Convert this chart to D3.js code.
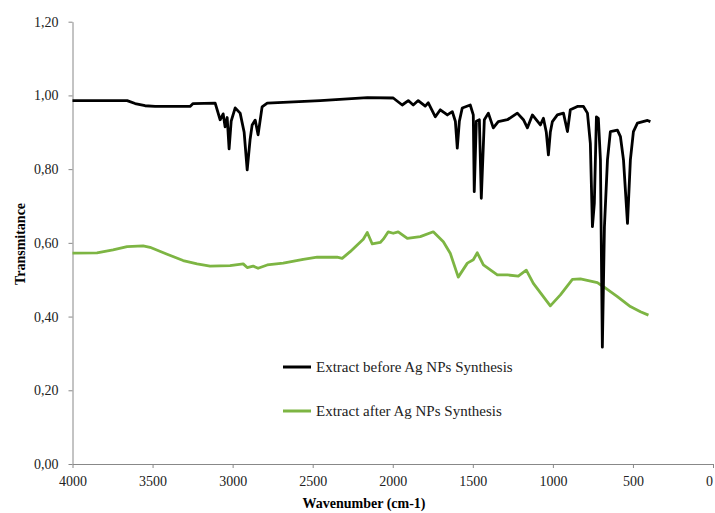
<!DOCTYPE html>
<html>
<head>
<meta charset="utf-8">
<script src="https://cdn.jsdelivr.net/npm/d3@7"></script>
<style>
    body { margin: 0; background: #fff; }
    svg { font-family: "Liberation Serif", "Times New Roman", serif; }
</style>
</head>
<body>
<div id="chart"></div>
<script>
// wavenumber (cm-1) and transmitance
var beforeWave = [4000, 3659, 3609, 3547, 3484, 3266, 3247, 3109, 3078, 3059, 3047, 3034, 3022, 3009, 2984, 2953,
    2928, 2909, 2891, 2878, 2859, 2841, 2816, 2784, 2453, 2159, 1997, 1941, 1903, 1872, 1841, 1797, 1778, 1734,
    1703, 1659, 1628, 1609, 1597, 1584, 1566, 1516, 1497, 1491, 1478, 1459, 1447, 1428, 1403, 1372, 1341, 1284,
    1222, 1184, 1159, 1128, 1078, 1059, 1041, 1028, 1016, 1003, 972, 934, 909, 891, 847, 809, 784, 766, 753, 741,
    728, 716, 703, 691, 678, 659, 641, 597, 578, 559, 534, 516, 497, 472, 409, 391];
var beforeT = [0.986, 0.986, 0.978, 0.972, 0.970, 0.970, 0.978, 0.979, 0.934, 0.950, 0.915, 0.940, 0.855, 0.930, 0.966, 0.952,
    0.900, 0.798, 0.880, 0.920, 0.933, 0.893, 0.969, 0.979, 0.986, 0.994, 0.993, 0.974, 0.986, 0.974, 0.986, 0.971, 0.980, 0.942,
    0.961, 0.947, 0.956, 0.930, 0.857, 0.930, 0.966, 0.974, 0.947, 0.739, 0.930, 0.934, 0.721, 0.934, 0.952, 0.912, 0.929, 0.934,
    0.952, 0.934, 0.912, 0.947, 0.920, 0.938, 0.900, 0.839, 0.900, 0.929, 0.947, 0.952, 0.902, 0.961, 0.970, 0.970, 0.952, 0.870, 0.644, 0.708,
    0.942, 0.938, 0.825, 0.317, 0.644, 0.825, 0.902, 0.906, 0.888, 0.825, 0.653, 0.825, 0.902, 0.925, 0.932, 0.929];

var afterWave = [4000, 3847, 3747, 3659, 3559, 3516, 3409, 3309, 3222, 3141, 3016, 2934, 2909, 2872, 2841, 2784,
    2684, 2559, 2472, 2347, 2316, 2266, 2184, 2159, 2128, 2078, 2059, 2028, 1997, 1966, 1909, 1828, 1747, 1684,
    1641, 1591, 1534, 1497, 1472, 1434, 1347, 1284, 1216, 1166, 1122, 1016, 953, 878, 828, 722, 684, 597, 516, 453, 403];
var afterT = [0.572, 0.573, 0.581, 0.590, 0.592, 0.588, 0.569, 0.552, 0.543, 0.537, 0.538, 0.543, 0.533, 0.537, 0.531, 0.540,
    0.545, 0.555, 0.561, 0.561, 0.558, 0.576, 0.610, 0.628, 0.597, 0.601, 0.610, 0.630, 0.626, 0.630, 0.612, 0.617, 0.630, 0.603,
    0.572, 0.507, 0.545, 0.554, 0.573, 0.540, 0.513, 0.513, 0.510, 0.526, 0.490, 0.429, 0.459, 0.501, 0.502, 0.492, 0.481, 0.454, 0.427, 0.413, 0.404];

var seriesNames = ["Extract before Ag NPs Synthesis", "Extract after Ag NPs Synthesis"];
var seriesColors = ["#000000", "#7db543"];
var xTicks = [4000, 3500, 3000, 2500, 2000, 1500, 1000, 500, 0];
var yTicks = [0, 0.2, 0.4, 0.6, 0.8, 1.0, 1.2];

const svgDimentions = { width: 715, height: 513 };
const margins = { top: 21.7, bottom: 49, left: 72.5, right: 2 };

var svg = d3.select("#chart").append("svg")
    .attr("width", svgDimentions.width)
    .attr("height", svgDimentions.height);

var scaleX = d3.scaleLinear()
    .domain([4000, 0])
    .range([margins.left, svgDimentions.width - margins.right]);

var scaleY = d3.scaleLinear()
    .domain([0, 1.2])
    .range([svgDimentions.height - margins.bottom, margins.top]);

var fmt = d => d3.format(".2f")(d).replace(".", ",");

var axisX = d3.axisBottom(scaleX).tickValues(xTicks).tickFormat(d3.format("d"))
    .tickSize(4).tickPadding(8).tickSizeOuter(0);
var axisY = d3.axisLeft(scaleY).tickValues(yTicks).tickFormat(fmt)
    .tickSize(4).tickPadding(10).tickSizeOuter(0);

svg.append("g")
    .attr("class", "x axis")
    .attr("transform", "translate(0," + scaleY(0) + ")")
    .call(axisX);
svg.append("g")
    .attr("class", "y axis")
    .attr("transform", "translate(" + margins.left + ",0)")
    .call(axisY);

svg.selectAll(".axis path, .axis line").attr("stroke", "#888");
svg.selectAll(".axis text").attr("fill", "#222").style("font-size", "14px")
    .style("font-family", "'Liberation Serif', serif");

// last label sits on the window edge, nudge it in
svg.selectAll(".x.axis .tick text").filter(d => d === 0).attr("dx", -4);

// spectra
var line = d3.line()
    .x(d => scaleX(d[0]))
    .y(d => scaleY(d[1]));

var series = [
    d3.zip(afterWave, afterT),
    d3.zip(beforeWave, beforeT)
];
var colorsInOrder = [seriesColors[1], seriesColors[0]];

svg.selectAll(".spectrum")
    .data(series)
    .enter()
    .append("path")
    .attr("class", "spectrum")
    .attr("d", line)
    .attr("fill", "none")
    .attr("stroke", (d, i) => colorsInOrder[i])
    .attr("stroke-width", 2.8)
    .attr("stroke-linejoin", "round");

// axis titles
svg.append("text")
    .attr("x", 364)
    .attr("y", 508)
    .attr("text-anchor", "middle")
    .style("font-size", "14px")
    .style("font-weight", "bold")
    .text("Wavenumber (cm-1)");

svg.append("text")
    .attr("transform", "translate(25,244) rotate(-90)")
    .attr("text-anchor", "middle")
    .style("font-size", "14px")
    .style("font-weight", "bold")
    .text("Transmitance");

// legend
var legend = svg.selectAll(".legend")
    .data(seriesNames)
    .enter()
    .append("g")
    .attr("class", "legend")
    .attr("transform", (d, i) => "translate(283," + (367 + i * 44) + ")");

legend.append("line")
    .attr("x1", 0).attr("x2", 28)
    .attr("stroke", (d, i) => seriesColors[i])
    .attr("stroke-width", 3);

legend.append("text")
    .attr("x", 33)
    .attr("y", 5)
    .style("font-size", "15px")
    .attr("fill", "#222")
    .text(d => d);
</script>
</body>
</html>
